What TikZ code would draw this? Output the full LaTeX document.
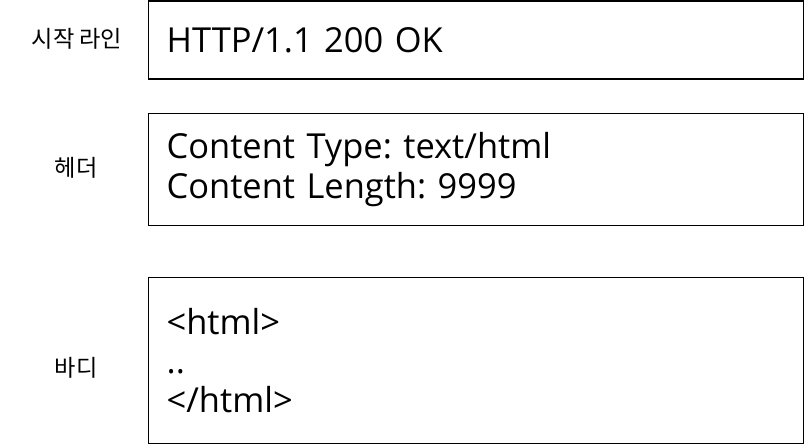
\documentclass[tikz,border=0pt]{standalone}
\usepackage{fontspec}
\setmainfont{Open Sans}
\newfontfamily\korfont{Noto Sans CJK KR}
\usetikzlibrary{positioning}
\frenchspacing
\tikzset{%
	msgbox/.style    = {draw, line width=0.9pt, rectangle, anchor=north west, minimum width=16.375cm, text width=15.475cm, inner xsep=0.45cm, align=left, font=\fontsize{24.5}{28}\selectfont},
	partlabel/.style = {font=\korfont\fontsize{16.5}{19}\selectfont},
}
\begin{document}
\begin{tikzpicture}
		\useasboundingbox (0,0) rectangle (20.1,-11.15);
		\node[msgbox, minimum height=1.95cm] (startline) at (3.7,-0.0125) {HTTP/1.1 200 OK};  % start line
		\node[msgbox, minimum height=2.8cm] (header) at (3.7,-2.825) {Content Type: text/html\\Content Length: 9999};
		\node[msgbox, minimum height=4.15cm] (body) at (3.7,-6.925) {<html>\\..\\</html>};
		\node[partlabel] (startlbl) at (1.925,-0.975) {시작 라인};
		\node[partlabel] (headerlbl) at (1.9,-4.19) {헤더};
		\node[partlabel] (bodylbl) at (1.9,-9.19) {바디};
		\end{tikzpicture}
\end{document}
